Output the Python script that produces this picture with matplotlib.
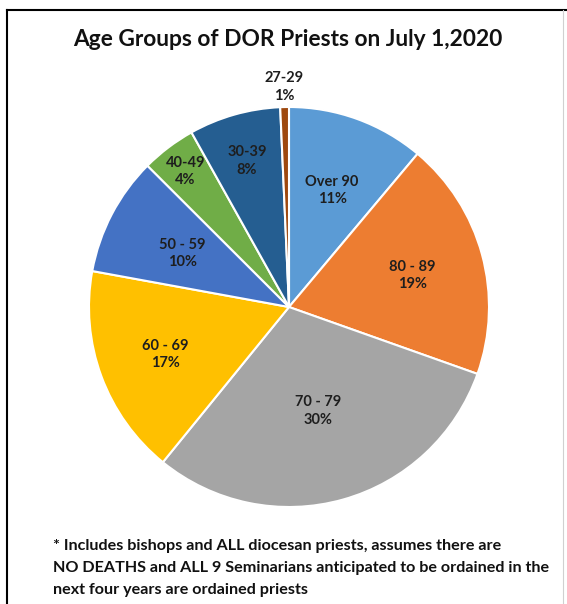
import matplotlib
matplotlib.use('Agg')
import matplotlib.pyplot as plt
from matplotlib.lines import Line2D
import numpy as np

# ---- data ----
categories = ['Over 90', '80 - 89', '70 - 79', '60 - 69', '50 - 59', '40-49', '30-39', '27-29']
shares = [11.1, 19.3, 30.4, 17.0, 9.6, 4.4, 7.4, 0.7]
pct_labels = ['11%', '19%', '30%', '17%', '10%', '4%', '8%', '1%']
colors = ['#5B9BD5', '#ED7D31', '#A5A5A5', '#FFC000', '#4472C4', '#70AD47', '#255E91', '#9E480E']
label_dist = [0.63, 0.64, 0.53, 0.66, 0.60, 0.86, 0.77, 1.11]

title = 'Age Groups of DOR Priests on July 1,2020'
footnote = ['* Includes bishops and ALL diocesan priests, assumes there are',
            'NO DEATHS and ALL 9 Seminarians anticipated to be ordained in the',
            'next four years are ordained priests']

FONT = 'Lato'
W, H = 567, 604
fig = plt.figure(figsize=(W / 100, H / 100), dpi=100)
fig.patch.set_facecolor('white')

# pie axes: center (289, 307) px from top, radius 200 px
cx, cy, r = 289, 307, 200
ax = fig.add_axes([(cx - r) / W, (H - cy - r) / H, 2 * r / W, 2 * r / H])
wedges, _ = ax.pie(shares, colors=colors, startangle=90, counterclock=False,
                   radius=1, labels=None,
                   wedgeprops=dict(edgecolor='white', linewidth=1.5))
ax.set_xlim(-1, 1)
ax.set_ylim(-1, 1)
ax.axis('off')

for w, cat, pct, d in zip(wedges, categories, pct_labels, label_dist):
    ang = np.deg2rad((w.theta1 + w.theta2) / 2)
    ax.text(d * np.cos(ang), d * np.sin(ang) - 0.01, f'{cat}\n{pct}', ha='center', va='center',
            fontsize=10.5, fontweight='bold', family=FONT, color='#1e1e1e', linespacing=1.3)

renderer = fig.canvas.get_renderer()

def fit(t, target):
    wpx = t.get_window_extent(renderer).width
    t.set_fontsize(t.get_fontsize() * target / wpx)

t = fig.text(288 / W, 1 - 46.5 / H, title, ha='center', va='baseline',
             fontsize=17, fontweight='bold', family=FONT, color='#111111')
fit(t, 432)

ft = []
for i, line in enumerate(footnote):
    ft.append(fig.text(53 / W, 1 - (550 + 22 * i) / H, line, ha='left', va='baseline',
                       fontsize=11, fontweight='bold', family=FONT, color='#111111'))
wpx = ft[1].get_window_extent(renderer).width
scale = 497 / wpx
for x in ft:
    x.set_fontsize(x.get_fontsize() * scale)

# frame lines
fig.add_artist(Line2D([7 / W, 7 / W], [0, 1 - 10 / H], transform=fig.transFigure, color='black', lw=1.5))
fig.add_artist(Line2D([7 / W, 1], [1 - 10 / H, 1 - 10 / H], transform=fig.transFigure, color='black', lw=1.5))
fig.add_artist(Line2D([563 / W, 563 / W], [0, 1 - 10 / H], transform=fig.transFigure, color='#d0d0d0', lw=0.8))

fig.savefig('out.png', dpi=100, facecolor='white')
